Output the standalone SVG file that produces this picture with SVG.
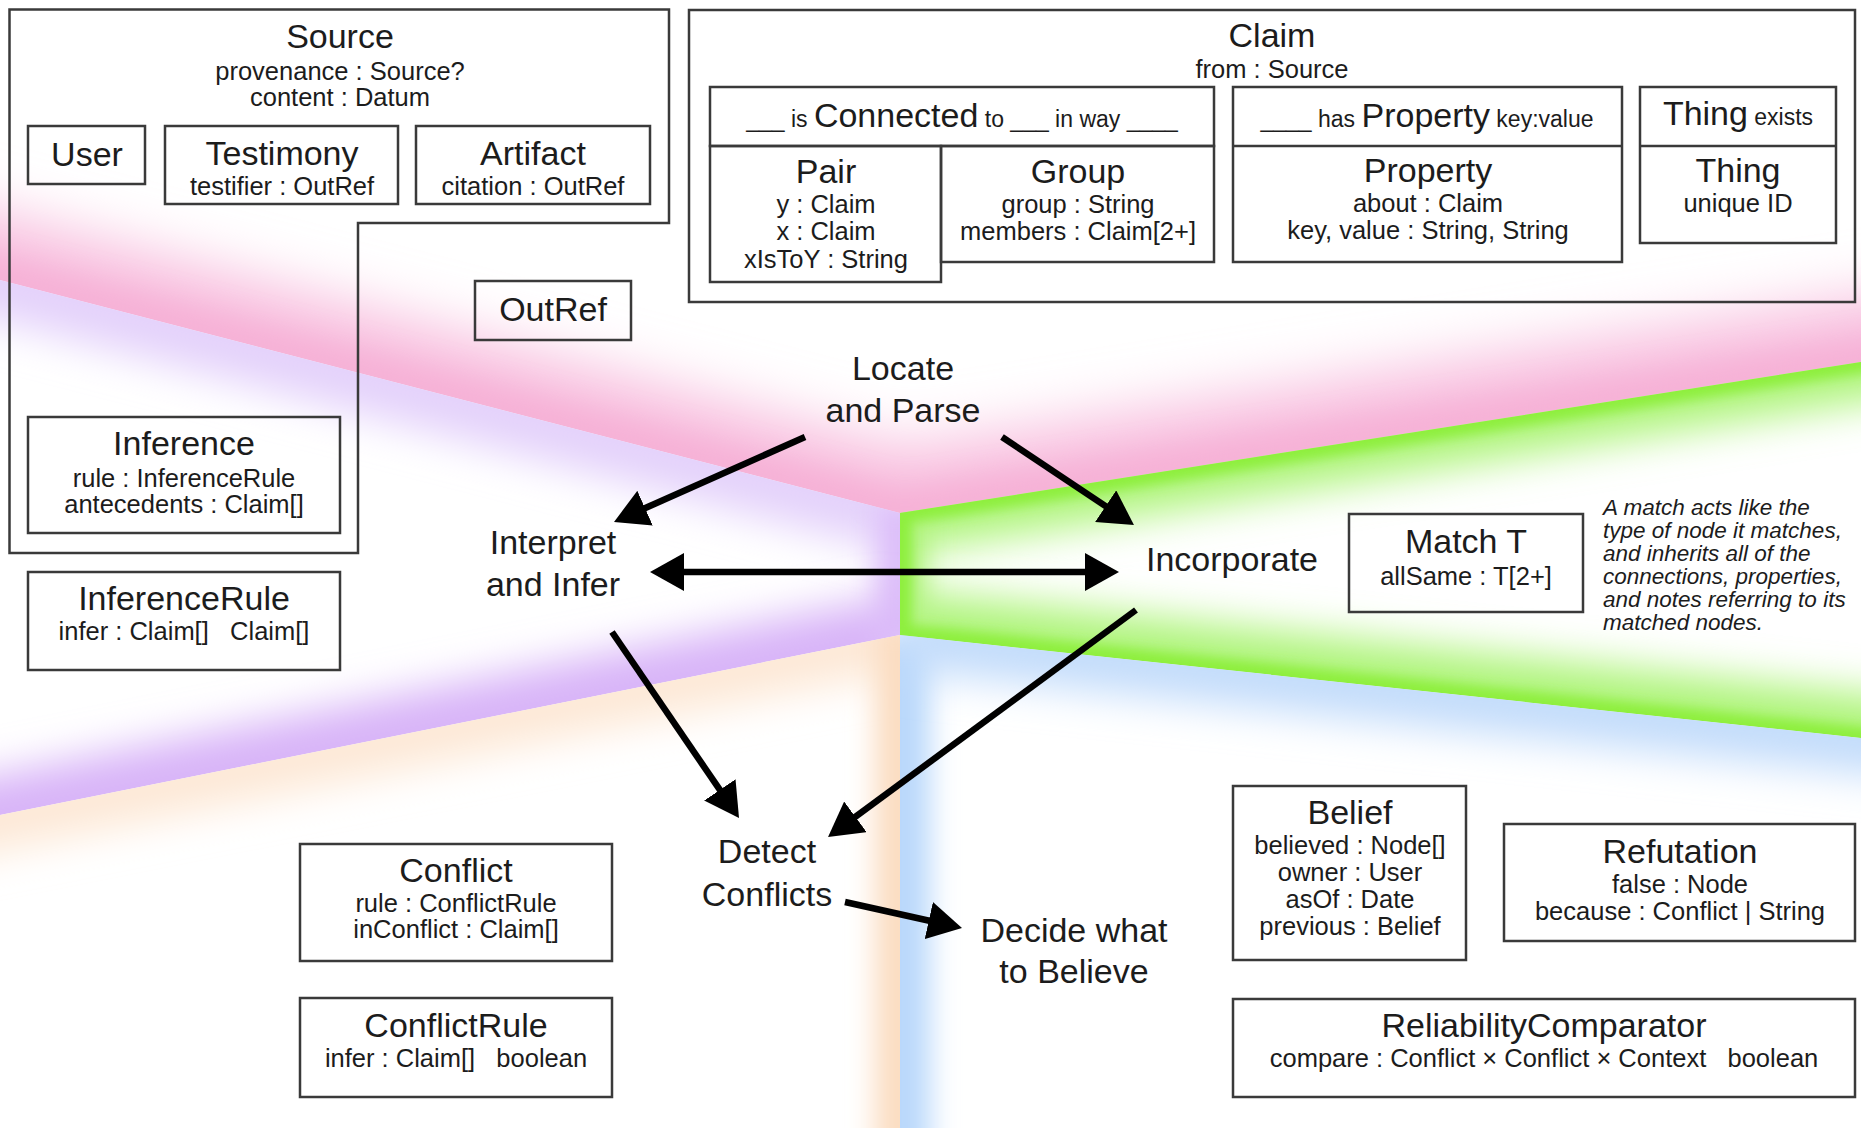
<svg xmlns="http://www.w3.org/2000/svg" width="1861" height="1128" viewBox="0 0 1861 1128">
<style>
.box{fill:none;stroke:#3a3a3a;stroke-width:2.5}
.t{font-family:"Liberation Sans",Arial,Helvetica,sans-serif;fill:#1c1c1c;text-anchor:middle}
.title{font-size:34px}
.attr{font-size:25.5px}
.proc{font-size:34px}
.sm{font-size:23px}
.note{font-family:"Liberation Sans",Arial,Helvetica,sans-serif;fill:#1c1c1c;font-size:22.5px;font-style:italic}
.arrow{stroke:#000;stroke-width:6.5;fill:none}
.glow{fill:none;stroke-linejoin:miter}
</style>
<defs>
<filter id="b28" filterUnits="userSpaceOnUse" x="-200" y="-200" width="2300" height="1600"><feGaussianBlur stdDeviation="28"/></filter>
<filter id="b20" filterUnits="userSpaceOnUse" x="-200" y="-200" width="2300" height="1600"><feGaussianBlur stdDeviation="20"/></filter>
<filter id="b14" filterUnits="userSpaceOnUse" x="-200" y="-200" width="2300" height="1600"><feGaussianBlur stdDeviation="14"/></filter>
<filter id="b6" filterUnits="userSpaceOnUse" x="-200" y="-200" width="2300" height="1600"><feGaussianBlur stdDeviation="6"/></filter>
<clipPath id="cPink"><polygon points="0,0 1861,0 1861,362 900,513 0,280"/></clipPath>
<clipPath id="cPurple"><polygon points="0,280 900,513 900,635 0,815"/></clipPath>
<clipPath id="cGreen"><polygon points="900,513 1861,362 1861,738 900,635"/></clipPath>
<clipPath id="cOrange"><polygon points="0,815 900,635 900,1128 0,1128"/></clipPath>
<clipPath id="cBlue"><polygon points="900,635 1861,738 1861,1128 900,1128"/></clipPath>
<marker id="ah" viewBox="0 0 34 38" refX="4" refY="19" markerWidth="34" markerHeight="38" markerUnits="userSpaceOnUse" orient="auto-start-reverse">
<path d="M0,0 L34,19 L0,38 z" fill="#000"/>
</marker>
</defs>
<rect x="0" y="0" width="1861" height="1128" fill="#ffffff"/>
<g id="background">
<g clip-path="url(#cPink)">
<path class="glow" d="M-100,254 L900,513 L1961,346" stroke="#f8c0df" stroke-width="130" filter="url(#b28)"/>
<path class="glow" d="M-100,254 L900,513 L1961,346" stroke="#f6b0d6" stroke-width="40" filter="url(#b14)"/>
</g>
<g clip-path="url(#cPurple)">
<path class="glow" d="M-100,254 L900,513" stroke="#e4d2fb" stroke-width="80" filter="url(#b20)"/>
<path class="glow" d="M900,500 L900,650" stroke="#dcbdf9" stroke-width="50" filter="url(#b14)"/>
<path class="glow" d="M900,635 L-100,835" stroke="#d8b4f8" stroke-width="80" filter="url(#b20)"/>
</g>
<g clip-path="url(#cGreen)">
<path class="glow" d="M1961,346 L900,513" stroke="#aef47a" stroke-width="80" filter="url(#b20)"/>
<path class="glow" d="M900,500 L900,650" stroke="#a8f270" stroke-width="50" filter="url(#b14)"/>
<path class="glow" d="M900,635 L1961,749" stroke="#aef47a" stroke-width="90" filter="url(#b20)"/>
<path class="glow" d="M1961,346 L900,513 L900,635 L1961,749" stroke="#8eef3e" stroke-width="22" filter="url(#b6)"/>
</g>
<g clip-path="url(#cOrange)">
<path class="glow" d="M-100,835 L900,635" stroke="#fde8d6" stroke-width="70" filter="url(#b20)"/>
<path class="glow" d="M900,620 L900,1228" stroke="#fbdcc0" stroke-width="50" filter="url(#b14)"/>
</g>
<g clip-path="url(#cBlue)">
<path class="glow" d="M900,1228 L900,635" stroke="#b9d8fb" stroke-width="60" filter="url(#b14)"/>
<path class="glow" d="M900,635 L1961,749" stroke="#c2dcfb" stroke-width="70" filter="url(#b20)"/>
</g>
</g>

<g id="source">
<polygon class="box" points="9.5,9.5 669,9.5 669,223 358,223 358,553 9.5,553"/>
<text class="t title" x="340" y="48">Source</text>
<text class="t attr" x="340" y="80">provenance : Source?</text>
<text class="t attr" x="340" y="106">content : Datum</text>
</g>
<g id="user">
<rect class="box" x="28" y="126" width="117" height="58"/>
<text class="t title" x="87" y="166">User</text>
</g>
<g id="testimony">
<rect class="box" x="165" y="126" width="233" height="78"/>
<text class="t title" x="282" y="165">Testimony</text>
<text class="t attr" x="282" y="195">testifier : OutRef</text>
</g>
<g id="artifact">
<rect class="box" x="416" y="126" width="234" height="78"/>
<text class="t title" x="533" y="165">Artifact</text>
<text class="t attr" x="533" y="195">citation : OutRef</text>
</g>
<g id="outref">
<rect class="box" x="475" y="281" width="156" height="59"/>
<text class="t title" x="553" y="321">OutRef</text>
</g>
<g id="inference">
<rect class="box" x="28" y="417" width="312" height="116"/>
<text class="t title" x="184" y="455">Inference</text>
<text class="t attr" x="184" y="487">rule : InferenceRule</text>
<text class="t attr" x="184" y="513">antecedents : Claim[]</text>
</g>
<g id="inferencerule">
<rect class="box" x="28" y="572" width="312" height="98"/>
<text class="t title" x="184" y="610">InferenceRule</text>
<text class="t attr" x="184" y="640" xml:space="preserve">infer : Claim[]   Claim[]</text>
</g>

<g id="claim">
<rect class="box" x="689" y="10" width="1166" height="292"/>
<text class="t title" x="1272" y="47">Claim</text>
<text class="t attr" x="1272" y="78">from : Source</text>
</g>
<g id="connected">
<rect class="box" x="710" y="87" width="504" height="59"/>
<text class="t" x="962" y="127" xml:space="preserve"><tspan class="sm">___ is </tspan><tspan class="title">Connected</tspan><tspan class="sm"> to ___ in way ____</tspan></text>
</g>
<g id="pair">
<rect class="box" x="710" y="146" width="231" height="136"/>
<text class="t title" x="826" y="183">Pair</text>
<text class="t attr" x="826" y="213">y : Claim</text>
<text class="t attr" x="826" y="240">x : Claim</text>
<text class="t attr" x="826" y="268">xIsToY : String</text>
</g>
<g id="group">
<rect class="box" x="941" y="146" width="273" height="116"/>
<text class="t title" x="1078" y="183">Group</text>
<text class="t attr" x="1078" y="213">group : String</text>
<text class="t attr" x="1078" y="240">members : Claim[2+]</text>
</g>
<g id="property">
<rect class="box" x="1233" y="87" width="389" height="175"/>
<line class="box" x1="1233" y1="146" x2="1622" y2="146"/>
<text class="t" x="1427" y="127" xml:space="preserve"><tspan class="sm">____ has </tspan><tspan class="title">Property</tspan><tspan class="sm"> key:value</tspan></text>
<text class="t title" x="1428" y="182">Property</text>
<text class="t attr" x="1428" y="212">about : Claim</text>
<text class="t attr" x="1428" y="239">key, value : String, String</text>
</g>
<g id="thing">
<rect class="box" x="1640" y="87" width="196" height="156"/>
<line class="box" x1="1640" y1="146" x2="1836" y2="146"/>
<text class="t" x="1738" y="125" xml:space="preserve"><tspan class="title">Thing</tspan><tspan class="sm"> exists</tspan></text>
<text class="t title" x="1738" y="182">Thing</text>
<text class="t attr" x="1738" y="212">unique ID</text>
</g>

<g id="match">
<rect class="box" x="1349" y="514" width="234" height="98"/>
<text class="t title" x="1466" y="553">Match T</text>
<text class="t attr" x="1466" y="585">allSame : T[2+]</text>
</g>
<g id="match-note">
<text class="note" x="1603" y="515">A match acts like the</text>
<text class="note" x="1603" y="538">type of node it matches,</text>
<text class="note" x="1603" y="561">and inherits all of the</text>
<text class="note" x="1603" y="584">connections, properties,</text>
<text class="note" x="1603" y="607">and notes referring to its</text>
<text class="note" x="1603" y="630">matched nodes.</text>
</g>
<g id="belief">
<rect class="box" x="1233" y="786" width="233" height="174"/>
<text class="t title" x="1350" y="824">Belief</text>
<text class="t attr" x="1350" y="854">believed : Node[]</text>
<text class="t attr" x="1350" y="881">owner : User</text>
<text class="t attr" x="1350" y="908">asOf : Date</text>
<text class="t attr" x="1350" y="935">previous : Belief</text>
</g>
<g id="refutation">
<rect class="box" x="1504" y="824" width="351" height="117"/>
<text class="t title" x="1680" y="863">Refutation</text>
<text class="t attr" x="1680" y="893">false : Node</text>
<text class="t attr" x="1680" y="920">because : Conflict | String</text>
</g>
<g id="reliability">
<rect class="box" x="1233" y="999" width="622" height="98"/>
<text class="t title" x="1544" y="1037">ReliabilityComparator</text>
<text class="t attr" x="1544" y="1067" xml:space="preserve">compare : Conflict × Conflict × Context   boolean</text>
</g>
<g id="conflict">
<rect class="box" x="300" y="844" width="312" height="117"/>
<text class="t title" x="456" y="882">Conflict</text>
<text class="t attr" x="456" y="912">rule : ConflictRule</text>
<text class="t attr" x="456" y="938">inConflict : Claim[]</text>
</g>
<g id="conflictrule">
<rect class="box" x="300" y="998" width="312" height="99"/>
<text class="t title" x="456" y="1037">ConflictRule</text>
<text class="t attr" x="456" y="1067" xml:space="preserve">infer : Claim[]   boolean</text>
</g>

<g id="locate">
<text class="t proc" x="903" y="380">Locate</text>
<text class="t proc" x="903" y="422">and Parse</text>
</g>
<g id="interpret">
<text class="t proc" x="553" y="554">Interpret</text>
<text class="t proc" x="553" y="596">and Infer</text>
</g>
<g id="incorporate">
<text class="t proc" x="1232" y="571">Incorporate</text>
</g>
<g id="detect">
<text class="t proc" x="767" y="863">Detect</text>
<text class="t proc" x="767" y="906">Conflicts</text>
</g>
<g id="decide">
<text class="t proc" x="1074" y="942">Decide what</text>
<text class="t proc" x="1074" y="983">to Believe</text>
</g>

<g id="connectors">
<line class="arrow" x1="805" y1="437" x2="641.4" y2="509.8" marker-end="url(#ah)"/>
<line class="arrow" x1="1002" y1="437" x2="1109" y2="508.4" marker-end="url(#ah)"/>
<line class="arrow" x1="680" y1="572" x2="1089" y2="572" marker-start="url(#ah)" marker-end="url(#ah)"/>
<line class="arrow" x1="612" y1="632" x2="722.1" y2="793.2" marker-end="url(#ah)"/>
<line class="arrow" x1="1136" y1="610" x2="852.2" y2="819.2" marker-end="url(#ah)"/>
<line class="arrow" x1="845" y1="902" x2="932.7" y2="921.5" marker-end="url(#ah)"/>
</g>
</svg>
